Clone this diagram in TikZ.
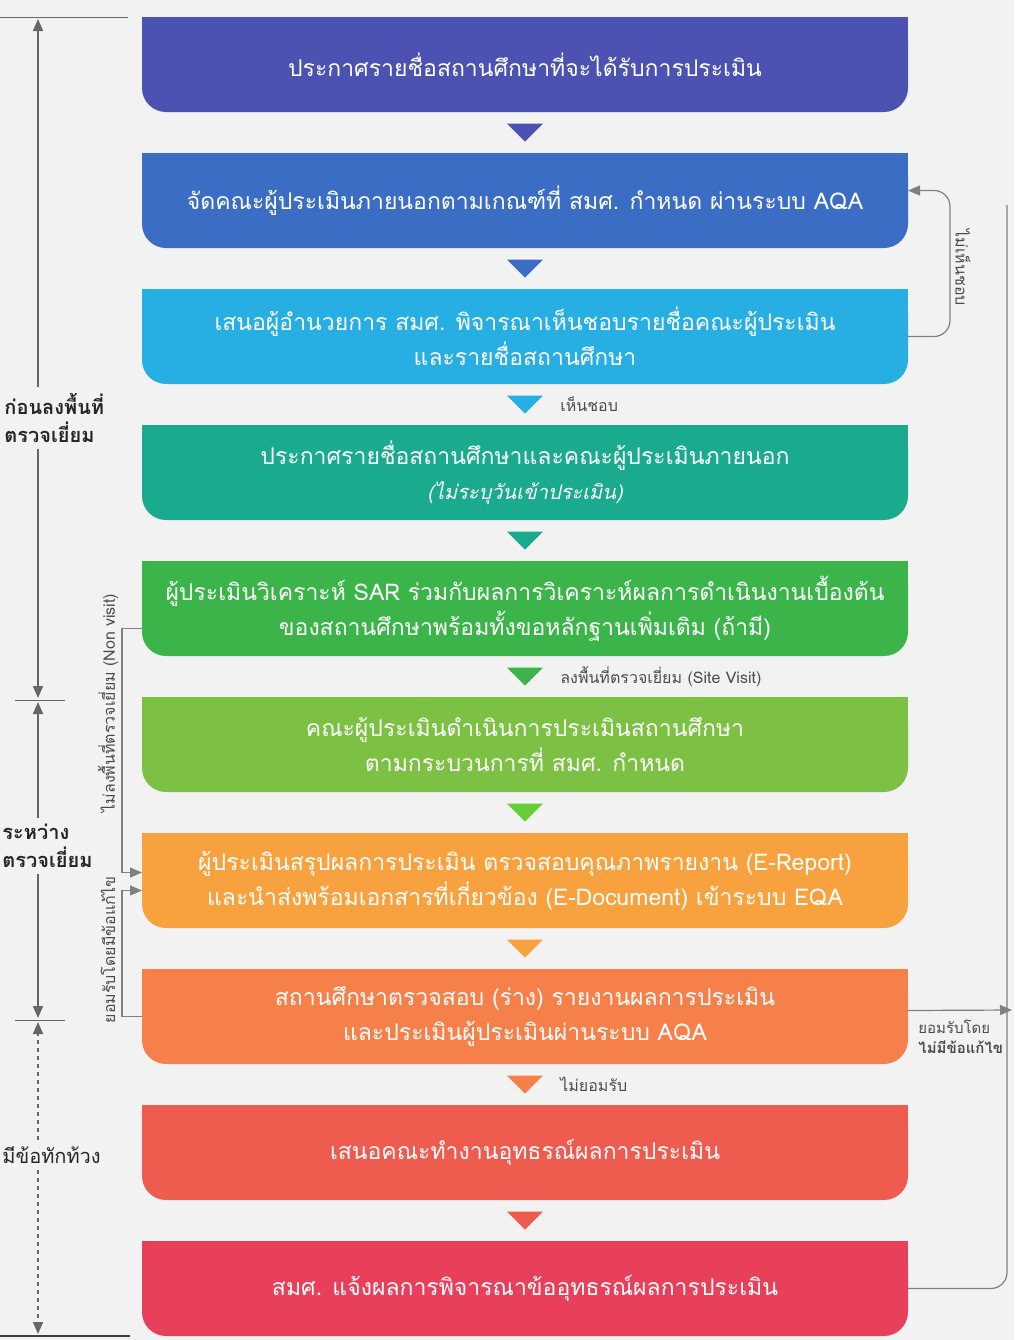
\documentclass[tikz,border=0pt]{standalone}
\usepackage{fontspec}
\newfontfamily\thaifont[Script=Thai]{Loma}
\usetikzlibrary{positioning,arrows.meta,calc}

\definecolor{paper}{HTML}{F2F2F2}
\definecolor{indigo}{HTML}{4B52B2}
\definecolor{royal}{HTML}{3C6DC5}
\definecolor{sky}{HTML}{27AEE3}
\definecolor{teal}{HTML}{1AAB8E}
\definecolor{leaf}{HTML}{3BB54A}
\definecolor{lime}{HTML}{7CC143}
\definecolor{amber}{HTML}{F8A23F}
\definecolor{tangerine}{HTML}{F5804A}
\definecolor{coral}{HTML}{EE5B4F}
\definecolor{rose}{HTML}{E8405B}

\tikzset{
  stepbox/.style={minimum width=383pt, minimum height=47.5pt, inner sep=0pt,
    outer sep=0pt, align=center, text=white,
    font=\thaifont\fontsize{11.5}{17.5}\selectfont,
    path picture={
      \fill[#1, rounded corners=12pt] (path picture bounding box.north west)
        rectangle (path picture bounding box.south east);
      \fill[#1] (path picture bounding box.north west)
        rectangle (path picture bounding box.east);}},
  note/.style={font=\thaifont\fontsize{8}{10}\selectfont, text=black!70, inner sep=1pt},
  side/.style={font=\thaifont\bfseries\fontsize{10}{14}\selectfont, align=left,
    text=black!85, inner sep=3pt},
  dim/.style={draw=black!60, line width=0.8pt, -{Triangle[width=5pt,length=6pt]}},
  link/.style={draw=black!50, line width=0.6pt, -{Triangle[width=5pt,length=6pt]}}
}

\begin{document}
\begin{tikzpicture}[x=0.5pt,y=-0.5pt]
\fill[paper] (0,0) rectangle (1014,1340);
\useasboundingbox (0,0) rectangle (1014,1340);

% steps
\node[stepbox=indigo] (s1) at (525,64.5) {ประกาศรายชื่อสถานศึกษาที่จะได้รับการประเมิน};
\node[stepbox=royal, below=20.5pt of s1] (s2) {จัดคณะผู้ประเมินภายนอกตามเกณฑ์ที่ สมศ. กำหนด ผ่านระบบ AQA};
\node[stepbox=sky, below=20.5pt of s2] (s3) {เสนอผู้อำนวยการ สมศ. พิจารณาเห็นชอบรายชื่อคณะผู้ประเมิน\\และรายชื่อสถานศึกษา};
\node[stepbox=teal, below=20.5pt of s3] (s4) {ประกาศรายชื่อสถานศึกษาและคณะผู้ประเมินภายนอก\\{\itshape\fontsize{10}{15}\selectfont (ไม่ระบุวันเข้าประเมิน)}};
\node[stepbox=leaf, below=20.5pt of s4] (s5) {ผู้ประเมินวิเคราะห์ SAR ร่วมกับผลการวิเคราะห์ผลการดำเนินงานเบื้องต้น\\ของสถานศึกษาพร้อมทั้งขอหลักฐานเพิ่มเติม (ถ้ามี)};
\node[stepbox=lime, below=20.5pt of s5] (s6) {คณะผู้ประเมินดำเนินการประเมินสถานศึกษา\\ตามกระบวนการที่ สมศ. กำหนด};
\node[stepbox=amber, below=20.5pt of s6] (s7) {ผู้ประเมินสรุปผลการประเมิน ตรวจสอบคุณภาพรายงาน (E-Report)\\และนำส่งพร้อมเอกสารที่เกี่ยวข้อง (E-Document) เข้าระบบ EQA};
\node[stepbox=tangerine, below=20.5pt of s7] (s8) {สถานศึกษาตรวจสอบ (ร่าง) รายงานผลการประเมิน\\และประเมินผู้ประเมินผ่านระบบ AQA};
\node[stepbox=coral, below=20.5pt of s8] (s9) {เสนอคณะทำงานอุทธรณ์ผลการประเมิน};
\node[stepbox=rose, below=20.5pt of s9] (s10) {สมศ. แจ้งผลการพิจารณาข้ออุทธรณ์ผลการประเมิน};

% down triangles
\foreach \a/\b/\c in {s1/s2/indigo, s2/s3/royal, s3/s4/sky, s4/s5/teal, s5/s6/leaf,
                      s6/s7/lime!80!green, s7/s8/amber, s8/s9/tangerine, s9/s10/coral}
  \fill[\c] ($(\a.south)!0.5!(\b.north)$) ++(-18,-9) -- ++(36,0) -- ++(-18,18) -- cycle;

\node[note, anchor=west] (ok) at ($(s3.south)!0.5!(s4.north)+(33,0)$) {เห็นชอบ};
\node[note, anchor=west] (visit) at ($(s5.south)!0.5!(s6.north)+(33,0)$) {ลงพื้นที่ตรวจเยี่ยม (Site Visit)};
\node[note, anchor=west] (refuse) at ($(s8.south)!0.5!(s9.north)+(33,0)$) {ไม่ยอมรับ};

% phases on the left
\draw[black!60] (0,17) -- (128,17);
\draw[black!60] (15,700) -- (65,700);
\draw[black!60] (15,1020) -- (65,1020);
\draw[black!75, line width=1.2pt] (0,1336) -- (130,1336);
\coordinate (c0) at (38,19);
\coordinate (c1) at (38,698);
\coordinate (c2) at (38,702);
\coordinate (c3) at (38,1018);
\coordinate (c4) at (38,1022);
\coordinate (c5) at (38,1334);
\node[side, anchor=west] (before) at (-2,418) {ก่อนลงพื้นที่\\ตรวจเยี่ยม};
\node[side, anchor=west] (during) at (-4,846) {ระหว่าง\\ตรวจเยี่ยม};
\node[side, anchor=west, font=\thaifont\fontsize{10}{14}\selectfont] (appeal) at (-4,1155) {มีข้อทักท้วง};
\draw[dim] (c0 |- before.north) -- (c0);
\draw[dim] (c0 |- before.south) -- (c1);
\draw[dim] (c2 |- during.north) -- (c2);
\draw[dim] (c2 |- during.south) -- (c3);
\draw[dim, dash pattern=on 2pt off 2pt] (c4 |- appeal.north) -- (c4);
\draw[dim, dash pattern=on 2pt off 2pt] (c4 |- appeal.south) -- (c5);

% side paths
\node[note, rotate=90] (nonvisit) at (108,703) {ไม่ลงพื้นที่ตรวจเยี่ยม (Non visit)};
\node[note, rotate=90] (fixes) at (108,950) {ยอมรับโดยมีข้อแก้ไข};
\draw[link] ($(s5.west)+(0,20)$) -- ++(-20,0) |- ($(s7.west)+(0,-8)$);
\draw[link] (s8.west) -- ++(-20,0) |- ($(s7.west)+(0,10)$);

\draw[link, rounded corners=8pt] (s3.east) -- ++(42,0) |- ($(s2.east)+(0,-10)$);
\node[note, rotate=-90] (notok) at (963,268) {ไม่เห็นชอบ};

\coordinate (out) at (1012,1010);
\coordinate (up) at (1007,205);
\draw[link] ($(s8.east)+(0,-6)$) -- (out);
\node[note, anchor=north west, align=left, font=\thaifont\fontsize{7.5}{10}\selectfont] (nofix) at (916,1018) {ยอมรับโดย\\\textbf{ไม่มีข้อแก้ไข}};
\draw[black!50, line width=0.6pt, rounded corners=8pt] (s10.east) -| (up);
\end{tikzpicture}
\end{document}
